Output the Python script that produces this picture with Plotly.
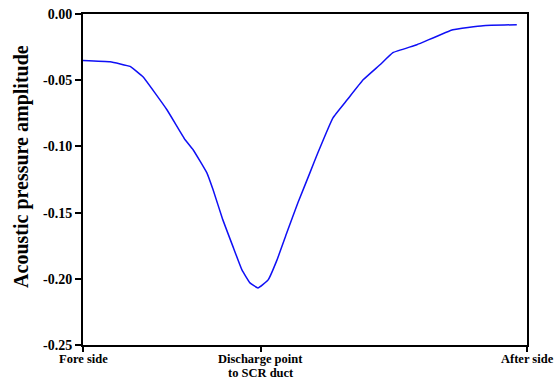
import plotly.graph_objects as go

# Position along the duct (0 = fore side, 1 = after side)
position = [0.000, 0.061, 0.106, 0.135, 0.189, 0.230, 0.248, 0.279, 0.293, 0.315,
            0.338, 0.358, 0.376, 0.394, 0.417, 0.437, 0.459, 0.484, 0.511, 0.529,
            0.563, 0.595, 0.631, 0.669, 0.698, 0.752, 0.833, 0.901, 0.977]
# Acoustic pressure amplitude at each position
amplitude = [-0.0351, -0.0361, -0.0396, -0.0474, -0.0723, -0.0950, -0.1025, -0.1200,
             -0.1328, -0.1555, -0.1759, -0.1933, -0.2031, -0.2069, -0.2008, -0.1857,
             -0.1653, -0.1426, -0.1200, -0.1048, -0.0784, -0.0648, -0.0497, -0.0383,
             -0.0292, -0.0232, -0.0119, -0.0088, -0.0081]

x_tick_vals = [0.0, 0.4008, 1.0]
x_tick_lines = [["Fore side"], ["Discharge point", "to SCR duct"], ["After side"]]
y_tick_vals = [0.00, -0.05, -0.10, -0.15, -0.20, -0.25]
y_tick_text = ["0.00", "-0.05", "-0.10", "-0.15", "-0.20", "-0.25"]
y_title = "Acoustic pressure amplitude"

fig = go.Figure()
fig.add_trace(go.Scatter(
    x=position, y=amplitude, mode="lines",
    line=dict(color="#0F0FF5", width=1.5, shape="spline", smoothing=0.3),
    showlegend=False,
))

serif = "Liberation Serif"
fig.update_layout(
    width=560, height=380,
    margin=dict(l=83, r=33, t=14, b=35),
    paper_bgcolor="white", plot_bgcolor="white",
    font=dict(family=serif, color="black", size=14, weight="bold"),
)
fig.update_xaxes(
    range=[0, 1], tickvals=x_tick_vals, ticktext=[""] * len(x_tick_vals),
    showgrid=False, zeroline=False, automargin=False,
    showline=True, linecolor="black", linewidth=2, mirror=True,
    ticks="outside", ticklen=5, tickwidth=1.5, tickcolor="black",
)
fig.update_yaxes(
    range=[-0.25, 0.0], tickvals=y_tick_vals, ticktext=y_tick_text,
    showgrid=False, zeroline=False, automargin=False,
    showline=True, linecolor="black", linewidth=2, mirror=True,
    ticks="outside", ticklen=6, tickwidth=1.5, tickcolor="black",
    tickfont=dict(family=serif, size=14, weight="bold"),
)

# Category labels under the x axis, one line per annotation for tight spacing
for xv, lines in zip(x_tick_vals, x_tick_lines):
    for i, line in enumerate(lines):
        fig.add_annotation(
            x=xv, xref="x", y=0, yref="paper",
            yshift=-14 - 14 * i, yanchor="middle", xanchor="center",
            text=line, showarrow=False, borderpad=0,
            font=dict(family=serif, size=12.5, weight="bold"),
        )

# Y axis title
fig.add_annotation(
    x=0, xref="paper", xshift=-61, y=0.538, yref="paper",
    text=y_title, textangle=-90, showarrow=False,
    xanchor="center", yanchor="middle",
    font=dict(family=serif, size=20, weight="bold"),
)

fig.write_html("out.html")
